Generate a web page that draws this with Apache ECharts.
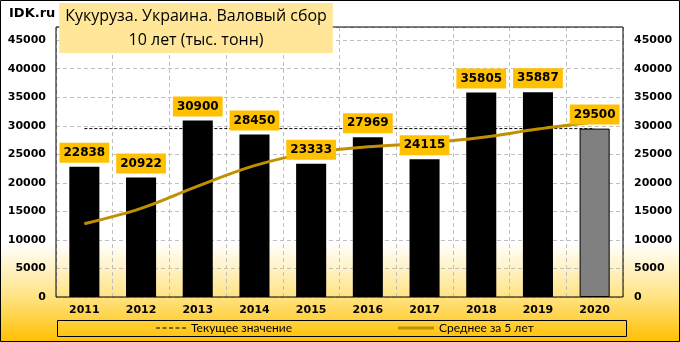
<!DOCTYPE html>
<html>
<head>
<meta charset="utf-8">
<script src="https://cdn.jsdelivr.net/npm/echarts@6/dist/echarts.min.js"></script>
<style>
html,body{margin:0;padding:0;background:#fff;}
#chart{width:680px;height:342px;}
</style>
</head>
<body>
<div id="chart"></div>
<script>
const years = ['2011','2012','2013','2014','2015','2016','2017','2018','2019','2020'];
const production = [22838, 20922, 30900, 28450, 23333, 27969, 24115, 35805, 35887, 29500];
const average5 = [12830, 15530, 19420, 23010, 25290, 26320, 26950, 27930, 29420, 30660];
const currentValue = [29500, 29500, 29500, 29500, 29500, 29500, 29500, 29500, 29500, 29500];
const titleLine1 = 'Кукуруза. Украина. Валовый сбор';
const titleLine2 = '10 лет (тыс. тонн)';
const seriesNames = ['Текущее значение', 'Среднее за 5 лет', 'Валовый сбор'];

const chart = echarts.init(document.getElementById('chart'));
const yLabelFmt = v => (v % 5000 === 0 ? String(v) : '');
const axisFont = {fontFamily: 'DejaVu Sans', fontWeight: 'bold', fontSize: 11, color: '#000'};
const dashIcon = 'path://M0,0h4v1h-4z M6.5,0h4v1h-4z M13,0h4v1h-4z M19.5,0h4v1h-4z M26,0h4v1h-4z';
const barIcon = 'path://M0,0h36v3h-36z';

chart.setOption({
  animation: false,
  backgroundColor: {
    type: 'linear', x: 0, y: 0, x2: 0, y2: 1,
    colorStops: [
      {offset: 0, color: '#ffffff'},
      {offset: 0.71, color: '#ffffff'},
      {offset: 0.86, color: '#ffe58a'},
      {offset: 1, color: '#ffc000'}
    ]
  },
  title: [{
    text: titleLine1 + '\n' + titleLine2,
    left: 190, top: 3, textAlign: 'center',
    backgroundColor: '#ffe699',
    padding: [1, 6, 1, 6],
    textStyle: {fontFamily: 'Open Sans', fontWeight: 'normal', fontSize: 16, lineHeight: 24, color: '#000'}
  }, {
    text: 'IDK.ru', left: 9, top: 7, padding: 0,
    textStyle: {fontFamily: 'DejaVu Sans', fontWeight: 'bold', fontSize: 13, color: '#000'}
  }],
  graphic: [
    {type: 'rect', z: 100, silent: true, shape: {x: 0.5, y: 0.5, width: 679, height: 341}, style: {fill: null, stroke: '#000', lineWidth: 1}},
    {type: 'rect', z: 1, silent: true, shape: {x: 57.5, y: 320.5, width: 569, height: 16}, style: {fill: null, stroke: '#000', lineWidth: 1}}
  ],
  legend: [{
    data: [{name: seriesNames[0], icon: dashIcon}], left: 156, top: 322, padding: 0,
    itemWidth: 30, itemHeight: 12, itemGap: 6,
    textStyle: {fontFamily: 'Lato', fontSize: 12, lineHeight: 12, color: '#000'}
  }, {
    data: [{name: seriesNames[1], icon: barIcon}], left: 398, top: 322, padding: 0,
    itemWidth: 36, itemHeight: 12, itemGap: 3,
    textStyle: {fontFamily: 'Lato', fontSize: 12, lineHeight: 12, color: '#000'}
  }],
  grid: {left: 56, right: 57, top: 27, bottom: 45, show: true, borderColor: '#000', borderWidth: 1, backgroundColor: 'transparent', z: 3},
  xAxis: {
    type: 'category', data: years,
    axisLine: {show: false}, axisTick: {show: false},
    axisLabel: Object.assign({margin: 8}, axisFont),
    splitLine: {show: true, lineStyle: {color: '#bfbfbf', type: [4, 3]}}
  },
  yAxis: [{
    type: 'value', min: 0, max: 47300, interval: 5000, position: 'left',
    axisLine: {show: false}, axisTick: {show: false},
    axisLabel: Object.assign({margin: 10, formatter: yLabelFmt, showMaxLabel: false}, axisFont),
    splitLine: {show: true, lineStyle: {color: '#bfbfbf', type: [4, 3]}}
  }, {
    type: 'value', min: 0, max: 47300, interval: 5000, position: 'right',
    axisLine: {show: false}, axisTick: {show: false},
    axisLabel: Object.assign({margin: 11, formatter: yLabelFmt, showMaxLabel: false}, axisFont),
    splitLine: {show: false}
  }],
  series: [{
    name: seriesNames[0], type: 'line', data: currentValue, z: 1,
    symbol: 'none', showSymbol: false,
    lineStyle: {color: '#000', width: 1, type: [3, 2]},
    itemStyle: {color: '#000'}
  }, {
    name: seriesNames[2], type: 'bar', data: production.map((v, i) => ({
      value: v,
      itemStyle: i === production.length - 1 ? {color: '#808080', borderColor: '#000', borderWidth: 1} : {color: '#000'}
    })),
    barWidth: '53%', z: 2
  }, {
    name: seriesNames[1], type: 'line', data: average5, z: 3,
    smooth: 0.35, symbol: 'none', showSymbol: false,
    lineStyle: {color: '#bf9000', width: 3},
    itemStyle: {color: '#bf9000'}
  }, {
    name: 'labels', type: 'bar', data: production, z: 5,
    barWidth: '53%', barGap: '-100%', silent: true,
    itemStyle: {color: 'rgba(0,0,0,0)'},
    label: {
      show: true, position: 'top', distance: 4,
      backgroundColor: '#ffc000', padding: [4, 4, 4, 4],
      fontFamily: 'DejaVu Sans', fontWeight: 'bold', fontSize: 12, lineHeight: 12, color: '#000'
    }
  }]
});
</script>
</body>
</html>
